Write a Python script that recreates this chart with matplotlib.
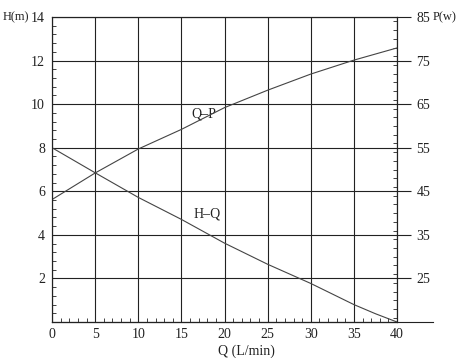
import numpy as np
import matplotlib.pyplot as plt
from matplotlib.ticker import MultipleLocator

# pump curves
q = [0, 5, 10, 15, 20, 25, 30, 35, 37.5, 40]
h = [8.0, 6.85, 5.72, 4.71, 3.62, 2.65, 1.77, 0.80, 0.38, 0.0]
p = [43.1, 49.2, 54.7, 59.2, 64.2, 68.2, 71.9, 75.1, 76.5, 77.9]

h_ticks = [2, 4, 6, 8, 10, 12, 14]
p_ticks = [25, 35, 45, 55, 65, 75, 85]
q_ticks = [0, 5, 10, 15, 20, 25, 30, 35, 40]

plt.rcParams['font.family'] = ['Liberation Serif', 'DejaVu Serif']
ink = '#222222'

fig = plt.figure(figsize=(4.57, 3.58), dpi=100)
ax = fig.add_axes([52/457, 36/358, 345/457, 305/358])
ax2 = ax.twinx()

ax.plot(q, h, color='#444444', lw=0.8)
ax2.plot(q, p, color='#444444', lw=0.8)

ax.set_xlim(0, 40); ax.set_ylim(0, 14)
ax2.set_ylim(15, 85)
ax.set_xticks(q_ticks); ax.set_yticks(h_ticks)
ax2.set_yticks(p_ticks)
ax.xaxis.set_minor_locator(MultipleLocator(1))
ax.yaxis.set_minor_locator(MultipleLocator(0.4))
ax2.yaxis.set_minor_locator(MultipleLocator(2))
ax.grid(True, which='major', color=ink, lw=0.8)

ax.tick_params(axis='x', which='major', length=0, pad=4, labelsize=10, colors=ink)
ax.tick_params(axis='x', which='minor', direction='in', length=3, width=0.6, color=ink)
ax.tick_params(axis='y', which='major', length=0, pad=5, labelsize=10, colors=ink)
ax.tick_params(axis='y', which='minor', direction='in', length=3, width=0.6, color=ink)
ax2.tick_params(axis='y', which='major', direction='out', length=10, width=0.8, pad=4,
                labelsize=10, colors=ink)
ax2.tick_params(axis='y', which='minor', direction='in', length=3, width=0.6, color=ink)

for a in (ax, ax2):
    for s in a.spines.values():
        s.set_color(ink); s.set_linewidth(0.8)

# bottom axis line runs past the right spine
ax.plot([0, 1.105], [0, 0], transform=ax.transAxes, color=ink, lw=0.8, clip_on=False)

ax.text(16.2, 9.4, 'Q\u2013P', fontsize=10, color=ink)
ax.text(16.4, 4.8, 'H\u2013Q', fontsize=10, color=ink)

fig.text(3/457, 1 - 17/358, 'H(m)', fontsize=9, va='center', color=ink)
fig.text(433/457, 1 - 17/358, 'P(w)', fontsize=9, va='center', color=ink)
fig.text(218/457, 1 - 351/358, 'Q (L/min)', fontsize=10, va='center', color=ink)

fig.savefig('out.png', dpi=100)
